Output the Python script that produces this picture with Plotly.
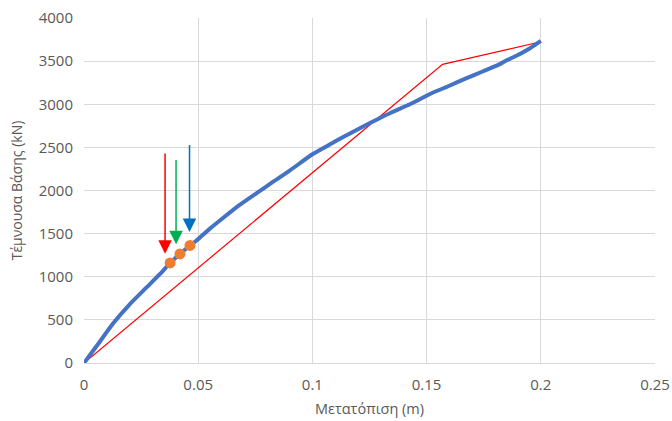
import plotly.graph_objects as go

# Pushover curve: displacement (m) vs base shear (kN)
disp = [0.0, 0.0035, 0.007, 0.0128, 0.0201, 0.0274, 0.0333, 0.0377, 0.0420,
        0.0464, 0.0493, 0.0550, 0.0610, 0.0680, 0.0756, 0.0830, 0.0902,
        0.1000, 0.1070, 0.1135, 0.1210, 0.1281, 0.1350, 0.1427, 0.1524,
        0.1600, 0.1670, 0.1745, 0.1816, 0.1850, 0.1880, 0.1953, 0.2000]
shear = [0, 125, 250, 460, 683, 876, 1032, 1160, 1264,
         1363, 1421, 1555, 1684, 1830, 1970, 2105, 2233,
         2420, 2525, 2620, 2725, 2821, 2910, 3000, 3130,
         3215, 3297, 3380, 3459, 3510, 3545, 3650, 3735]

# Bilinear idealisation
bil_disp = [0.0, 0.157, 0.200]
bil_shear = [0, 3463, 3725]

# Marked performance points
pt_disp = [0.0377, 0.0420, 0.0464]
pt_shear = [1160, 1264, 1363]

# Indicator arrows: x, start shear, tip shear, colour
arrow_x = [0.0355, 0.0403, 0.0462]
arrow_top = [2447, 2371, 2545]
arrow_tip = [1268, 1376, 1519]
arrow_colors = ["#FF0000", "#00B050", "#0070C0"]

x_ticks = [0, 0.05, 0.1, 0.15, 0.2, 0.25]
x_tick_text = ["0", "0.05", "0.1", "0.15", "0.2", "0.25"]
y_ticks = [0, 500, 1000, 1500, 2000, 2500, 3000, 3500, 4000]

font_family = "Open Sans"
text_color = "#595959"
grid_color = "#D9D9D9"

fig = go.Figure()
fig.add_trace(go.Scatter(x=bil_disp, y=bil_shear, mode="lines",
                         line=dict(color="#FF0000", width=1.2),
                         showlegend=False, hoverinfo="skip"))
fig.add_trace(go.Scatter(x=disp, y=shear, mode="lines",
                         line=dict(color="#4472C4", width=4, shape="spline",
                                   smoothing=0.6),
                         showlegend=False))
fig.add_trace(go.Scatter(x=pt_disp, y=pt_shear, mode="markers",
                         marker=dict(color="#ED7D31", size=11),
                         showlegend=False))

for xa, top, tip, col in zip(arrow_x, arrow_top, arrow_tip, arrow_colors):
    fig.add_annotation(x=xa, y=tip, ax=xa, ay=top, xref="x", yref="y",
                       axref="x", ayref="y", text="", showarrow=True,
                       arrowhead=2, arrowsize=1.8, arrowwidth=1.5,
                       arrowcolor=col, standoff=0)

fig.update_layout(
    width=672, height=421,
    margin=dict(l=84, r=17, t=18, b=58),
    paper_bgcolor="white", plot_bgcolor="white",
    font=dict(family=font_family, size=15, color=text_color),
)
fig.update_xaxes(
    range=[0, 0.25], tickvals=x_ticks, ticktext=x_tick_text,
    showgrid=True, gridcolor=grid_color, gridwidth=1,
    zeroline=False, showline=True, linecolor=grid_color, linewidth=1,
    ticks="", ticklabelstandoff=8, automargin=False,
    tickfont=dict(size=15, color=text_color),
    title=dict(text="Μετατόπιση (m)", standoff=10,
               font=dict(size=14.5, color=text_color)),
)
fig.update_yaxes(
    range=[0, 4000], tickvals=y_ticks,
    showgrid=True, gridcolor=grid_color, gridwidth=1,
    zeroline=False, showline=False,
    ticks="", ticklabelstandoff=10, automargin=False,
    tickfont=dict(size=15, color=text_color),
    title=dict(text="Τέμνουσα Βάσης (kN)", standoff=12,
               font=dict(size=14, color=text_color)),
)

fig.write_html("out.html")
